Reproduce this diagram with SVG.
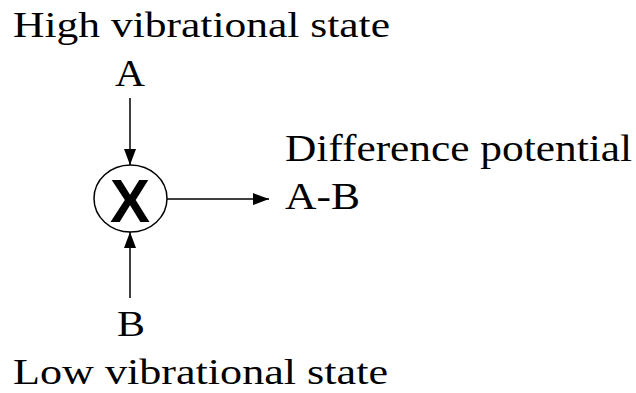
<svg xmlns="http://www.w3.org/2000/svg" width="636" height="393" viewBox="0 0 636 393">
<defs>
<style>
.c{stroke:#000;stroke-width:1.5;fill:none}
</style>
<marker id="ah" markerUnits="userSpaceOnUse" markerWidth="16" markerHeight="12" refX="16" refY="6" orient="auto">
<path d="M0,0 L16,6 L0,12 Z" fill="#000"/>
</marker>
</defs>
<rect width="636" height="393" fill="#fff"/>
<g font-family="'Liberation Serif', 'Times New Roman', Times, serif" fill="#000">
<g id="label-high"><text x="13" y="37" font-size="36" textLength="377" lengthAdjust="spacingAndGlyphs">High vibrational state</text></g>
<g id="node-a"><text x="115" y="86" font-size="37" textLength="30" lengthAdjust="spacingAndGlyphs">A</text></g>
<g id="node-out">
<text x="285" y="161" font-size="37" textLength="347" lengthAdjust="spacingAndGlyphs">Difference potential</text>
<text x="285" y="209" font-size="38" textLength="75" lengthAdjust="spacingAndGlyphs">A-B</text>
</g>
<g id="node-b"><text x="117" y="336" font-size="36" textLength="28" lengthAdjust="spacingAndGlyphs">B</text></g>
<g id="label-low"><text x="13" y="384" font-size="35" textLength="375" lengthAdjust="spacingAndGlyphs">Low vibrational state</text></g>
</g>
<g id="node-x">
<ellipse class="c" cx="130.5" cy="198.5" rx="36.5" ry="33.5"/>
<text x="130" y="222" font-family="'Liberation Sans', Arial, Helvetica, sans-serif" font-weight="bold" font-size="61" text-anchor="middle" textLength="40" lengthAdjust="spacingAndGlyphs">X</text>
</g>
<g id="connectors">
<line class="c" x1="130" y1="98" x2="130" y2="165" marker-end="url(#ah)"/>
<line class="c" x1="130" y1="298" x2="130" y2="232" marker-end="url(#ah)"/>
<line class="c" x1="167" y1="199" x2="269" y2="199" marker-end="url(#ah)"/>
</g>
</svg>
